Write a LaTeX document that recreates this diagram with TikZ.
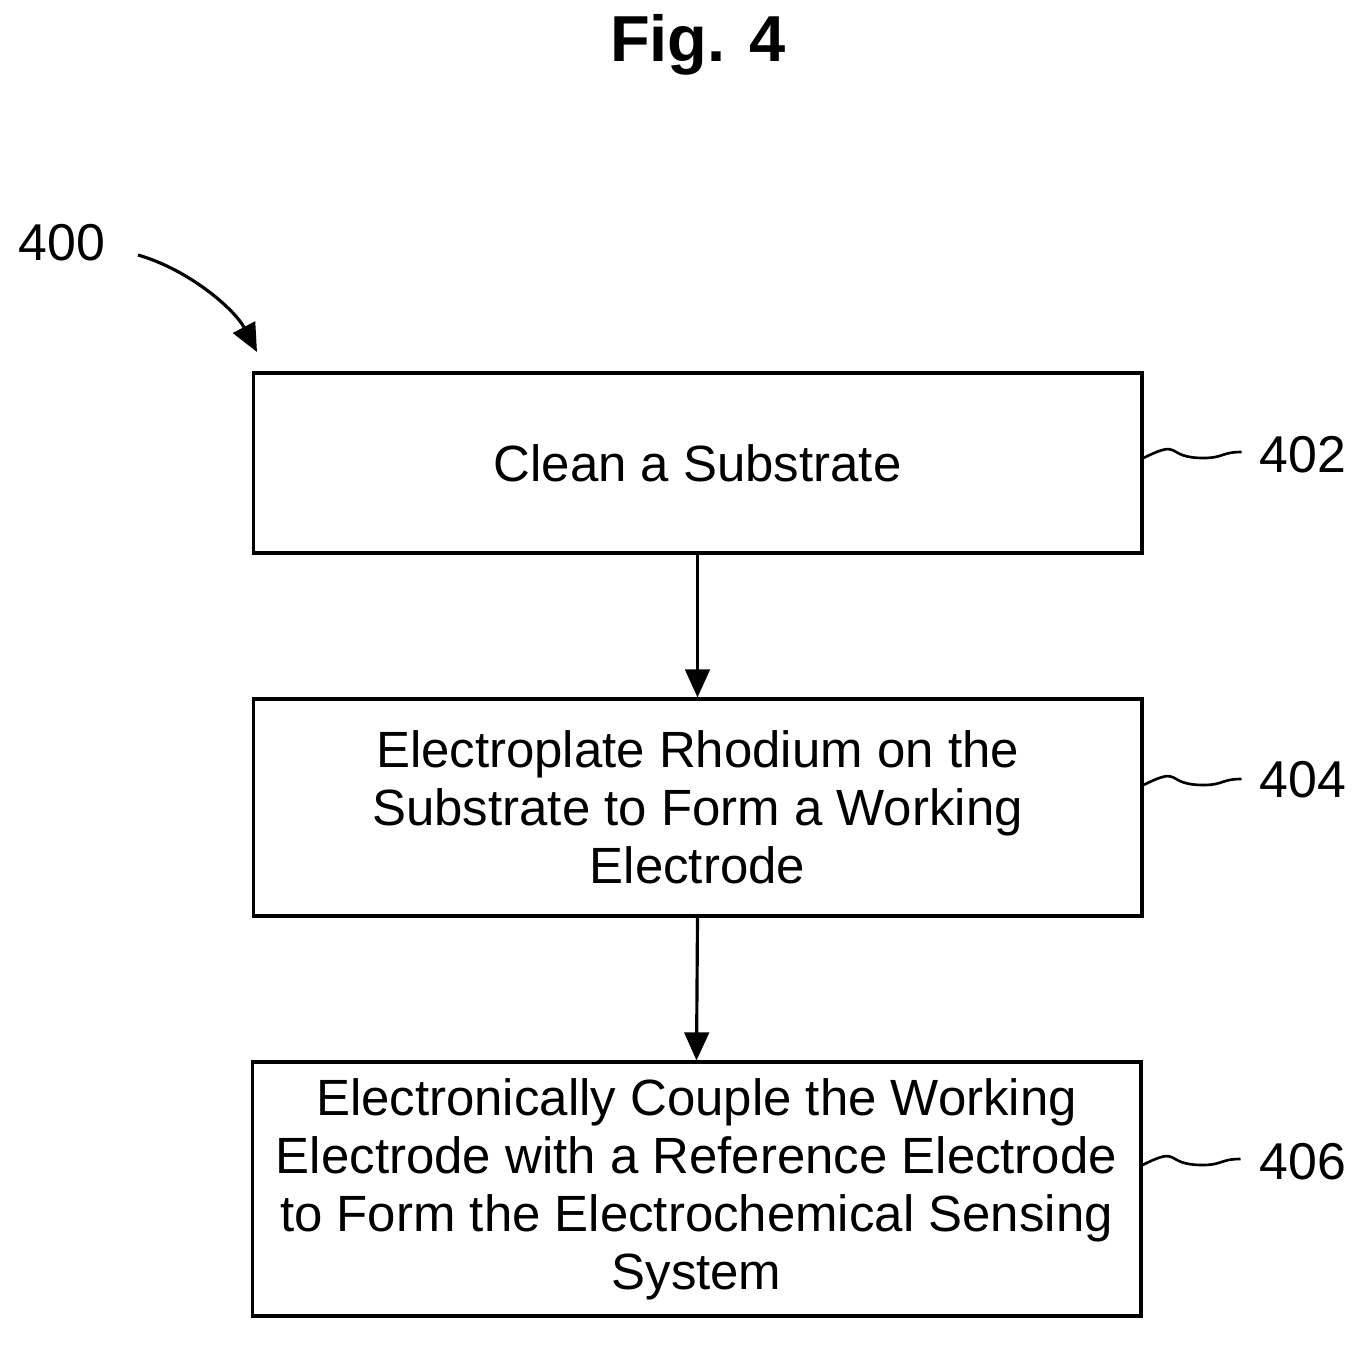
\documentclass[tikz,border=0pt]{standalone}
\usepackage{fontspec}
\setmainfont{Liberation Sans}
\usetikzlibrary{arrows.meta}
\begin{document}
\begin{tikzpicture}[x=0.02cm,y=-0.02cm,
  box/.style={draw,line width=1.8pt,minimum width=17.78cm,align=center,font=\fontsize{29}{33}\selectfont,inner sep=0pt},
  lab/.style={font=\fontsize{29.5}{32}\selectfont},
  arr/.style={line width=1.8pt,-{Triangle[length=16pt,width=14pt]}},
  sq/.style={line width=1.5pt}]
\useasboundingbox (0,0) rectangle (1366,1349);
\node[font=\bfseries\fontsize{37}{44}\selectfont] (t) at (698,45) {Fig. 4};
\node[box,minimum height=3.6cm] (b1) at (697.5,463) {Clean a Substrate};
\node[box,minimum height=4.34cm] (b2) at (697.5,807.5) {Electroplate Rhodium on the\\Substrate to Form a Working\\Electrode};
\node[box,minimum height=5.08cm] (b3) at (696.5,1189) {Electronically Couple the Working\\Electrode with a Reference Electrode\\to Form the Electrochemical Sensing\\System};
\draw[arr] (b1.south) -- (b2.north);
\draw[arr] (b2.south) -- (b3.north);
\node[lab] (l400) at (62,243) {400};
\node[lab] (l402) at (1303,455) {402};
\node[lab] (l404) at (1303,780) {404};
\node[lab] (l406) at (1303,1162) {406};
\coordinate (a0) at (138,255);
\coordinate (a1) at (257,352);
\draw[arr] (a0) .. controls (190,270) and (235,310) .. (a1);
\foreach \b/\l/\y in {b1/l402/458, b2/l404/785, b3/l406/1165}{
  \draw[sq] (\b.east |- 0,\y) .. controls +(40,-20) and +(-40,0) .. +(60,0) .. controls +(20,0) and +(-20,0) .. +(98,-6);
}
\end{tikzpicture}
\end{document}
